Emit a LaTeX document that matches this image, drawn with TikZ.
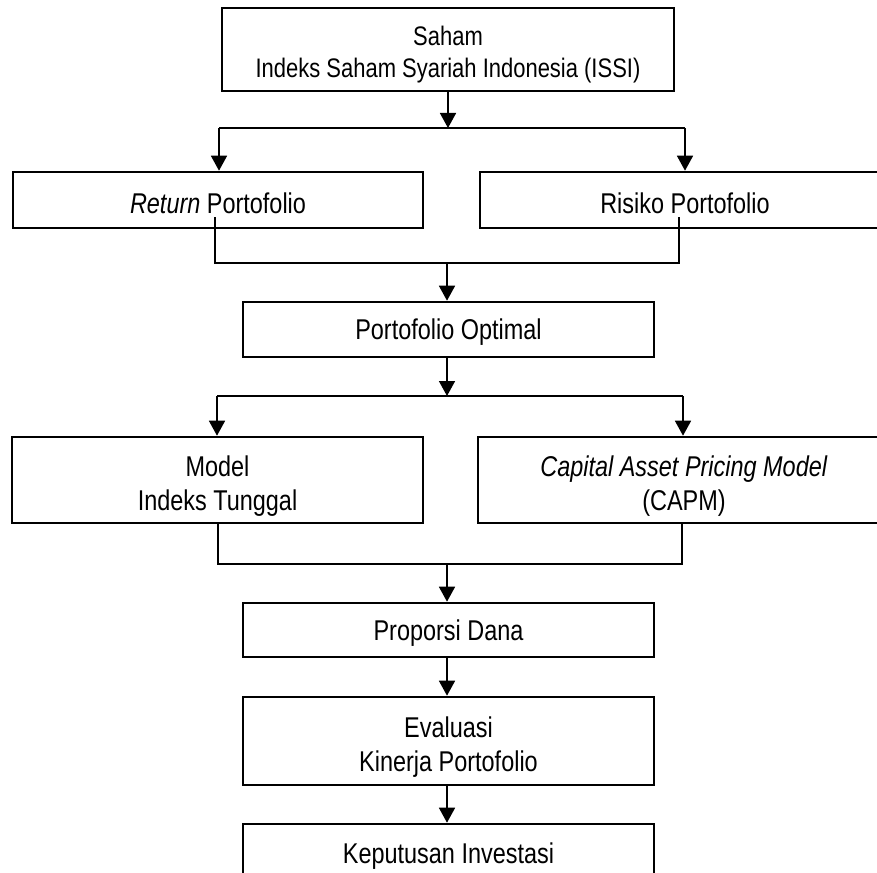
\documentclass[tikz,border=0pt]{standalone}
\usepackage{fontspec}
\setmainfont{Liberation Sans}[FakeStretch=0.82]
\usetikzlibrary{arrows.meta}
\begin{document}
\begin{tikzpicture}[x=1pt,y=-1pt,
  boxnode/.style={draw, line width=2.6pt, rectangle, inner sep=0pt},
  txt/.style={align=center, inner sep=0pt, font=\fontsize{28.6}{33.5}\selectfont},
  one/.style={label={[txt,yshift=-3pt]center:{#1}}},
  two/.style={label={[txt,yshift=-6pt]center:{#1}}},
  conn/.style={line width=1.6pt},
  arr/.style={conn, -{Triangle[width=16pt,length=15pt]}}]
\useasboundingbox (0,0) rectangle (877,872);
\clip (0,0) rectangle (877,872);
\fill[white] (0,0) rectangle (877,872);
% boxes
\node[boxnode, minimum width=452, minimum height=83,
  label={[txt,font=\fontsize{26.8}{32}\selectfont,yshift=-5pt]center:{Saham\\Indeks Saham Syariah Indonesia (ISSI)}}] (T) at (448,49.5) {};
\node[boxnode, minimum width=410, minimum height=56, one={\textit{Return} Portofolio}] (R) at (218,200) {};
\node[boxnode, minimum width=410, minimum height=56, one={Risiko Portofolio}] (K) at (685,200) {};
\node[boxnode, minimum width=411, minimum height=55, one={Portofolio Optimal}] (O) at (448.5,329.5) {};
\node[boxnode, minimum width=411, minimum height=86, two={Model\\Indeks Tunggal}] (M) at (217.5,480) {};
\node[boxnode, minimum width=412, minimum height=86, two={\textit{Capital Asset Pricing Model}\\(CAPM)}] (C) at (684,480) {};
\node[boxnode, minimum width=411, minimum height=54, one={Proporsi Dana}] (P) at (448.5,630) {};
\node[boxnode, minimum width=411, minimum height=88, two={Evaluasi\\Kinerja Portofolio}] (E) at (448.5,741) {};
\node[boxnode, minimum width=411, minimum height=58, one={Keputusan Investasi}] (D) at (448.5,853) {};
% junction coordinates
\coordinate (j1) at (448,128);
\coordinate (j1l) at (219,128);
\coordinate (j1r) at (685,128);
\coordinate (r1) at (215,217);
\coordinate (k1) at (679,217);
\coordinate (j2l) at (215,263);
\coordinate (j2r) at (679,263);
\coordinate (j2) at (447,263);
\coordinate (j3) at (447,396);
\coordinate (j3l) at (217,396);
\coordinate (j3r) at (683,396);
\coordinate (j4l) at (218,564);
\coordinate (j4r) at (682,564);
\coordinate (j4) at (447,564);
% connectors
\draw[arr] (T.south) -- (j1);
\draw[conn] (j1l) -- (j1r);
\draw[arr] (j1l) -- (j1l |- R.north);
\draw[arr] (j1r) -- (j1r |- K.north);
\draw[conn] (r1) -- (j2l) -- (j2r) -- (k1);
\draw[arr] (j2) -- (j2 |- O.north);
\draw[arr] (j2 |- O.south) -- (j3);
\draw[conn] (j3l) -- (j3r);
\draw[arr] (j3l) -- (j3l |- M.north);
\draw[arr] (j3r) -- (j3r |- C.north);
\draw[conn] (j4l |- M.south) -- (j4l) -- (j4r) -- (j4r |- C.south);
\draw[arr] (j4) -- (j4 |- P.north);
\draw[arr] (j4 |- P.south) -- (j4 |- E.north);
\draw[arr] (j4 |- E.south) -- (j4 |- D.north);
\end{tikzpicture}
\end{document}
